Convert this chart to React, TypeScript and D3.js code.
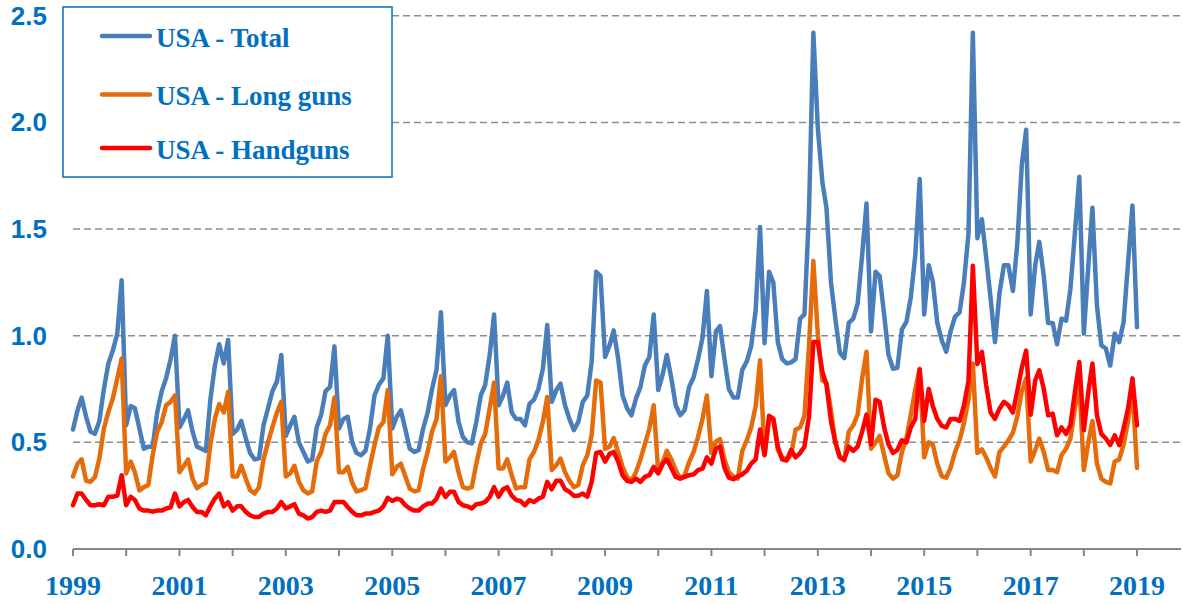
import React from "react";
import * as d3 from "d3";

// monthly points, Jan 1999 .. Jan 2019
const START = new Date(1999, 0, 1);
const END = new Date(2019, 0, 1);
const months = d3.timeMonth.range(START, d3.timeMonth.offset(END, 1));

const total = [
  0.56, 0.65, 0.71, 0.62, 0.55, 0.54, 0.6, 0.75, 0.87, 0.93, 1.01, 1.26,
  0.58, 0.67, 0.66, 0.565, 0.47, 0.48, 0.48, 0.64, 0.74, 0.8, 0.89, 1.0,
  0.57, 0.61, 0.65, 0.55, 0.48, 0.47, 0.46, 0.7, 0.86, 0.96, 0.87, 0.98,
  0.54, 0.56, 0.6, 0.52, 0.45, 0.42, 0.425, 0.58, 0.66, 0.74, 0.785, 0.91,
  0.53, 0.58, 0.62, 0.5, 0.456, 0.41, 0.42, 0.57, 0.63, 0.74, 0.76, 0.95,
  0.565, 0.61, 0.62, 0.5, 0.45, 0.44, 0.46, 0.565, 0.72, 0.77, 0.8, 1.0,
  0.565, 0.62, 0.65, 0.56, 0.47, 0.455, 0.463, 0.565, 0.64, 0.75, 0.84, 1.11,
  0.675, 0.72, 0.745, 0.596, 0.525, 0.5, 0.495, 0.596, 0.72, 0.77, 0.91, 1.1,
  0.674, 0.72, 0.78, 0.64, 0.61, 0.61, 0.58, 0.68, 0.7, 0.75, 0.845, 1.05,
  0.69, 0.745, 0.775, 0.674, 0.61, 0.557, 0.596, 0.69, 0.72, 0.877, 1.3, 1.28,
  0.9, 0.955, 1.025, 0.893, 0.72, 0.66, 0.627, 0.705, 0.76, 0.86, 0.9, 1.1,
  0.745, 0.82, 0.91, 0.8, 0.674, 0.627, 0.65, 0.76, 0.805, 0.89, 0.99, 1.21,
  0.81, 1.02, 1.045, 0.89, 0.75, 0.71, 0.71, 0.84, 0.88, 0.95, 1.12, 1.51,
  0.965, 1.3, 1.25, 0.97, 0.89, 0.87, 0.875, 0.89, 1.08, 1.1, 1.58, 2.42,
  1.97, 1.72, 1.6, 1.25, 1.08, 0.92, 0.895, 1.06, 1.08, 1.15, 1.38, 1.62,
  1.02, 1.3, 1.28, 1.1, 0.91, 0.845, 0.85, 1.03, 1.065, 1.18, 1.38, 1.735,
  1.1, 1.33, 1.255, 1.06, 0.98, 0.925, 1.02, 1.09, 1.11, 1.25, 1.48, 2.42,
  1.457, 1.546, 1.37, 1.175, 0.97, 1.2, 1.33, 1.33, 1.21, 1.43, 1.8, 1.966,
  1.1, 1.33, 1.44, 1.28, 1.06, 1.06, 0.96, 1.08, 1.07, 1.22, 1.486, 1.745,
  1.01, 1.33, 1.6, 1.14, 0.955, 0.94, 0.86, 1.01, 0.97, 1.064, 1.346, 1.61,
  1.04,
];

const longGuns = [
  0.34, 0.4, 0.42, 0.32, 0.315, 0.338, 0.424, 0.565, 0.643, 0.705, 0.8, 0.893,
  0.354, 0.41, 0.36, 0.275, 0.29, 0.3, 0.44, 0.55, 0.595, 0.674, 0.69, 0.72,
  0.36, 0.39, 0.42, 0.33, 0.285, 0.3, 0.31, 0.49, 0.61, 0.68, 0.64, 0.737,
  0.34, 0.34, 0.39, 0.33, 0.276, 0.26, 0.29, 0.42, 0.5, 0.57, 0.64, 0.69,
  0.34, 0.355, 0.39, 0.315, 0.276, 0.26, 0.27, 0.41, 0.455, 0.54, 0.58, 0.71,
  0.36, 0.36, 0.385, 0.31, 0.27, 0.276, 0.285, 0.39, 0.487, 0.57, 0.595, 0.745,
  0.35, 0.385, 0.4, 0.34, 0.283, 0.27, 0.275, 0.377, 0.455, 0.55, 0.61, 0.81,
  0.41, 0.43, 0.455, 0.36, 0.29, 0.283, 0.29, 0.4, 0.495, 0.54, 0.66, 0.78,
  0.378, 0.378, 0.42, 0.346, 0.284, 0.29, 0.29, 0.42, 0.455, 0.51, 0.596, 0.713,
  0.37, 0.393, 0.424, 0.36, 0.32, 0.29, 0.3, 0.393, 0.44, 0.534, 0.79, 0.78,
  0.47, 0.48, 0.52, 0.455, 0.385, 0.338, 0.32, 0.36, 0.42, 0.49, 0.565, 0.674,
  0.36, 0.408, 0.46, 0.42, 0.37, 0.33, 0.346, 0.408, 0.455, 0.525, 0.61, 0.72,
  0.45, 0.504, 0.515, 0.42, 0.36, 0.34, 0.33, 0.46, 0.51, 0.57, 0.67, 0.885,
  0.445, 0.61, 0.61, 0.465, 0.43, 0.42, 0.44, 0.56, 0.57, 0.625, 0.95, 1.35,
  1.0, 0.79, 0.78, 0.65, 0.5, 0.43, 0.415, 0.55, 0.58, 0.63, 0.8, 0.925,
  0.47, 0.5, 0.53, 0.44, 0.355, 0.33, 0.345, 0.455, 0.52, 0.63, 0.75, 0.845,
  0.43, 0.5, 0.49, 0.4, 0.342, 0.334, 0.38, 0.455, 0.51, 0.59, 0.7, 0.87,
  0.45, 0.467, 0.43, 0.38, 0.34, 0.455, 0.48, 0.51, 0.545, 0.62, 0.74, 0.8,
  0.41, 0.463, 0.518, 0.455, 0.37, 0.37, 0.36, 0.44, 0.47, 0.518, 0.66, 0.78,
  0.37, 0.5, 0.6, 0.4, 0.33, 0.315, 0.307, 0.41, 0.42, 0.49, 0.6, 0.75,
  0.38,
];

const handguns = [
  0.205, 0.26, 0.26, 0.23, 0.205, 0.205, 0.21, 0.205, 0.245, 0.245, 0.25, 0.346,
  0.205, 0.245, 0.23, 0.19, 0.18, 0.18, 0.175, 0.18, 0.18, 0.19, 0.195, 0.26,
  0.2, 0.22, 0.23, 0.197, 0.174, 0.174, 0.158, 0.2, 0.237, 0.26, 0.2, 0.22,
  0.18, 0.2, 0.2, 0.174, 0.158, 0.15, 0.15, 0.166, 0.174, 0.174, 0.19, 0.22,
  0.19, 0.2, 0.21, 0.166, 0.158, 0.143, 0.15, 0.174, 0.18, 0.174, 0.18, 0.22,
  0.22, 0.22, 0.197, 0.174, 0.158, 0.158, 0.166, 0.166, 0.174, 0.18, 0.2, 0.24,
  0.225, 0.236, 0.23, 0.205, 0.19, 0.18, 0.18, 0.2, 0.213, 0.213, 0.236, 0.283,
  0.244, 0.268, 0.268, 0.221, 0.205, 0.2, 0.19, 0.21, 0.213, 0.221, 0.244, 0.29,
  0.245, 0.28, 0.29, 0.25, 0.23, 0.225, 0.205, 0.23, 0.22, 0.236, 0.245, 0.315,
  0.28, 0.32, 0.32, 0.28, 0.268, 0.25, 0.25, 0.26, 0.245, 0.315, 0.45, 0.455,
  0.41, 0.446, 0.455, 0.41, 0.346, 0.32, 0.315, 0.33, 0.315, 0.338, 0.346, 0.385,
  0.354, 0.4, 0.42, 0.38, 0.338, 0.33, 0.338, 0.346, 0.35, 0.37, 0.377, 0.43,
  0.4, 0.47, 0.48, 0.38, 0.335, 0.327, 0.34, 0.35, 0.367, 0.4, 0.42, 0.56,
  0.44, 0.625, 0.61, 0.48, 0.42, 0.415, 0.465, 0.43, 0.45, 0.48, 0.62, 0.97,
  0.97, 0.83, 0.77, 0.6, 0.5, 0.43, 0.42, 0.48, 0.46, 0.48, 0.55, 0.63,
  0.49, 0.7, 0.69, 0.57, 0.49, 0.45, 0.465, 0.51, 0.5, 0.57, 0.61, 0.84,
  0.6, 0.75, 0.67, 0.61, 0.577, 0.57, 0.61, 0.61, 0.6, 0.674, 0.787, 1.328,
  0.867, 0.924, 0.77, 0.64, 0.61, 0.658, 0.69, 0.674, 0.64, 0.74, 0.85, 0.93,
  0.63, 0.79, 0.838, 0.75, 0.627, 0.635, 0.533, 0.57, 0.54, 0.58, 0.737, 0.877,
  0.557, 0.737, 0.87, 0.627, 0.54, 0.518, 0.487, 0.533, 0.487, 0.565, 0.66, 0.8,
  0.58,
];

const yTicks = [0, 0.5, 1, 1.5, 2, 2.5];
const yearLabels = ["1999", "2001", "2003", "2005", "2007", "2009", "2011", "2013", "2015", "2017", "2019"];
const seriesNames = ["USA - Total", "USA - Long guns", "USA - Handguns"];
const seriesColors = ["#4A7EBB", "#E46C0A", "#FF0000"];

const TEXT_BLUE = "#0070C0";
const GRID = "#8C8C8C";
const SERIF = "'Liberation Serif', 'Times New Roman', serif";
const SANS = "'Liberation Sans', Arial, sans-serif";

export default function App() {
  const width = 1183;
  const height = 604;

  const x = d3.scaleTime().domain([START, END]).range([73, 1137]);
  const y = d3.scaleLinear().domain([0, 2.5]).range([549, 15.8]);

  const line = d3
    .line<number>()
    .x((_, i) => x(months[i]))
    .y((d) => y(d));

  const years = d3.timeYear.range(START, d3.timeYear.offset(END, 1));
  const series = [total, longGuns, handguns];

  return (
    <svg
      width={width}
      height={height}
      style={{ position: "absolute", left: 0, top: 0, background: "#fff" }}
    >
      {/* horizontal dashed gridlines */}
      {yTicks.slice(1).map((t) => (
        <line
          key={t}
          x1={73}
          x2={1181}
          y1={y(t)}
          y2={y(t)}
          stroke={GRID}
          strokeWidth={1.5}
          strokeDasharray="7,4"
        />
      ))}

      {/* y tick labels */}
      {yTicks.map((t) => (
        <text
          key={t}
          x={47}
          y={y(t)}
          textAnchor="end"
          dominantBaseline="central"
          fontFamily={SANS}
          fontWeight="bold"
          fontSize={26}
          fill={TEXT_BLUE}
        >
          {t.toFixed(1)}
        </text>
      ))}

      {/* x axis */}
      <line x1={73} x2={1181} y1={y(0)} y2={y(0)} stroke="#868686" strokeWidth={2} />
      {years.map((d) => (
        <line
          key={+d}
          x1={x(d)}
          x2={x(d)}
          y1={y(0)}
          y2={y(0) + 7}
          stroke="#868686"
          strokeWidth={2}
        />
      ))}
      {yearLabels.map((lab) => (
        <text
          key={lab}
          x={x(new Date(+lab, 0, 1))}
          y={595}
          textAnchor="middle"
          fontFamily={SERIF}
          fontWeight="bold"
          fontSize={28}
          fill={TEXT_BLUE}
        >
          {lab}
        </text>
      ))}

      {/* series */}
      {series.map((s, i) => (
        <path
          key={seriesNames[i]}
          d={line(s) ?? ""}
          fill="none"
          stroke={seriesColors[i]}
          strokeWidth={4.5}
          strokeLinejoin="round"
          strokeLinecap="round"
        />
      ))}

      {/* legend */}
      <rect x={63} y={7} width={329} height={170} fill="#fff" stroke={TEXT_BLUE} strokeWidth={1.5} />
      {seriesNames.map((name, i) => {
        const ly = [36, 94.5, 148][i];
        return (
          <g key={name}>
            <line x1={102} x2={150} y1={ly} y2={ly} stroke={seriesColors[i]} strokeWidth={4.5} strokeLinecap="round" />
            <text
              x={156}
              y={ly + 10.5}
              fontFamily={SERIF}
              fontWeight="bold"
              fontSize={27}
              fill={TEXT_BLUE}
            >
              {name}
            </text>
          </g>
        );
      })}
    </svg>
  );
}
